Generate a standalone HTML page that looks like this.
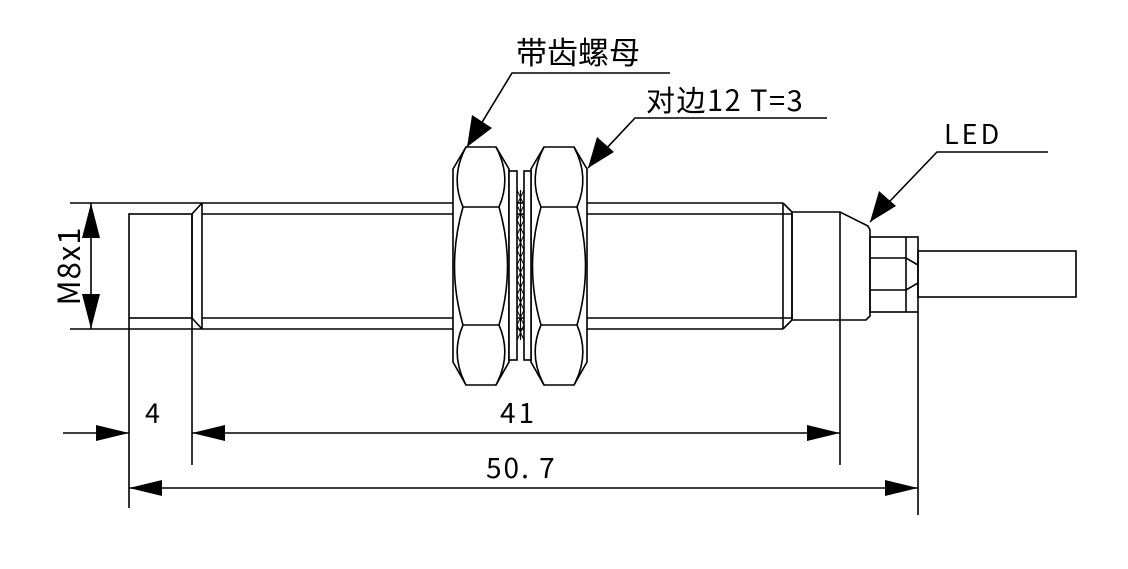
<!DOCTYPE html>
<html><head><meta charset="utf-8"><style>
html,body{margin:0;padding:0;background:#fff;}
svg{display:block;}
text{font-family:"Noto Sans CJK SC","Liberation Sans",sans-serif;fill:#000;}
</style></head><body>
<svg width="1128" height="569" viewBox="0 0 1128 569" xmlns="http://www.w3.org/2000/svg">
<g stroke="#000" stroke-width="1.6" fill="none">
<rect x="129" y="214" width="63" height="104" fill="#fff"/>
<line x1="70" y1="203" x2="783" y2="203"/>
<line x1="70" y1="329" x2="783" y2="329"/>
<line x1="202" y1="214" x2="792" y2="214"/>
<line x1="202" y1="318" x2="792" y2="318"/>
<line x1="192" y1="214" x2="202" y2="203"/>
<line x1="192" y1="318" x2="202" y2="329"/>
<line x1="202" y1="203" x2="202" y2="329"/>
<line x1="192" y1="214" x2="192" y2="465"/>
<line x1="783" y1="203" x2="783" y2="329"/>
<line x1="783" y1="203" x2="792" y2="212"/>
<line x1="783" y1="329" x2="792" y2="320"/>
<path d="M792 212 L840 212 L868 226 L870 230 L870 316 L866 320 L792 320 Z" fill="#fff"/>
<line x1="792" y1="212" x2="792" y2="320"/>
<line x1="840" y1="212" x2="840" y2="465"/>
<rect x="870" y="237" width="48" height="75"/>
<line x1="906" y1="237" x2="906" y2="312"/>
<path d="M870 258 L906 258 L918 265"/>
<path d="M870 290 L906 290 L918 283"/>
<line x1="918" y1="312" x2="918" y2="515"/>
<rect x="918" y="251" width="158" height="46"/>
<g id="nut">
<path d="M466 147 L496 147 L509 169 L509 362 L496 385 L466 385 L453 362 L453 169 Z" fill="#fff"/>
<line x1="463" y1="207" x2="499" y2="207"/>
<line x1="463" y1="325" x2="499" y2="325"/>
<path d="M466 147 Q450 177 463 207 M496 147 Q512 177 499 207"/>
<path d="M466 385 Q450 355 463 325 M496 385 Q512 355 499 325"/>
<path d="M463 207 Q446 266 463 325 M499 207 Q516 266 499 325"/>
</g>
<use href="#nut" transform="translate(78 0)"/>
<rect x="509" y="171" width="8" height="189" fill="#fff"/>
<rect x="524" y="171" width="7" height="189" fill="#fff"/>
<path d="M517 190 L524 205 L517 220 L524 235 L517 250 L524 265 L517 280 L524 295 L517 310 L524 325 L517 340" stroke-width="1"/>
<path d="M524 190 L517 205 L524 220 L517 235 L524 250 L517 265 L524 280 L517 295 L524 310 L517 325 L524 340" stroke-width="1"/>
<line x1="520.5" y1="190" x2="520.5" y2="340" stroke-width="1.2"/>
<line x1="129" y1="318" x2="129" y2="508"/>
<line x1="91" y1="203" x2="91" y2="329"/>
<line x1="63" y1="433" x2="129" y2="433"/>
<line x1="192" y1="433" x2="840" y2="433"/>
<line x1="129" y1="488" x2="918" y2="488"/>
<polyline points="670,73 512,73 467,147"/>
<polyline points="827,118 635,118 588,168"/>
<polyline points="1048,152 937,152 870,222"/>
</g>
<g fill="#000">
<polygon points="91,203 82,238 100,238"/>
<polygon points="91,329 82,294 100,294"/>
<polygon points="129,433 96,425 96,441"/>
<polygon points="192,433 225,425 225,441"/>
<polygon points="840,433 807,425 807,441"/>
<polygon points="129,488 162,480 162,496"/>
<polygon points="918,488 885,480 885,496"/>
<polygon points="467,147 472,115 492,128"/>
<polygon points="588,168 597,137 614,152"/>
<polygon points="870,222 879,191 896,206"/>
</g>
<text x="516" y="64" font-size="31">带齿螺母</text>
<text x="646" y="111" font-size="29" letter-spacing="1.5">对边12 T=3</text>
<text x="944" y="144" font-size="27" letter-spacing="3">LED</text>
<text x="145" y="423" font-size="27">4</text>
<text x="500" y="423" font-size="28" letter-spacing="3">41</text>
<text x="486" y="478" font-size="28" letter-spacing="2">50. 7</text>
<text transform="translate(80 266) rotate(-90)" font-size="31" text-anchor="middle" letter-spacing="1">M8x1</text>
</svg>
</body></html>
